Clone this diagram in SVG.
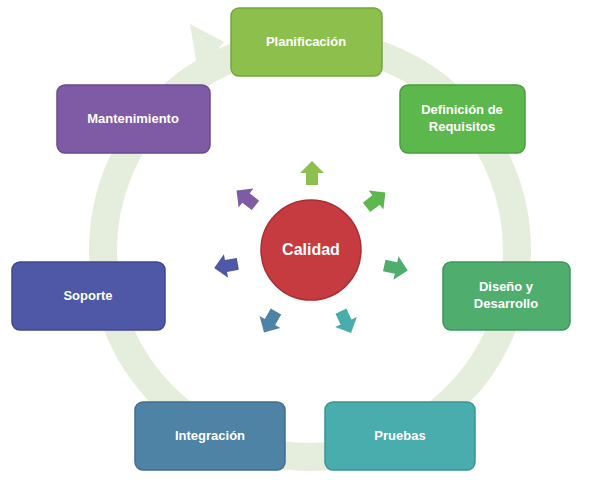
<svg xmlns="http://www.w3.org/2000/svg" width="610" height="480" viewBox="0 0 610 480">
<style>
.n{stroke-width:1.5}
.t{font-family:"Liberation Sans",Arial,sans-serif;font-size:13px;font-weight:bold;fill:#fff;text-anchor:middle}
</style>
<defs>
<polygon id="ar" points="-6,12 6,12 6,0 12,0 0,-12 -12,0 -6,0"/>
</defs>
<rect width="610" height="480" fill="#fff"/>
<g id="connectors">
<circle cx="310" cy="250" r="207" fill="none" stroke="#e5eddc" stroke-width="28"/>
<polygon points="190,24 224,42 198,72" fill="#e5eddc"/>
<g transform="translate(312,173)"><use href="#ar" fill="#8cbf4b"/></g>
<g transform="translate(376,200) rotate(52)"><use href="#ar" fill="#5cb84d"/></g>
<g transform="translate(396,268) rotate(102)"><use href="#ar" fill="#4fae6e"/></g>
<g transform="translate(346,322) rotate(155)"><use href="#ar" fill="#4aadad"/></g>
<g transform="translate(270,322) rotate(210)"><use href="#ar" fill="#4f83a6"/></g>
<g transform="translate(226,266) rotate(260)"><use href="#ar" fill="#4e58a6"/></g>
<g transform="translate(246,198) rotate(-52)"><use href="#ar" fill="#7f5aa5"/></g>
</g>
<g id="calidad"><circle cx="311" cy="250" r="50" fill="#c63b3f" stroke="#a83034" stroke-width="1.5"/><text class="t" x="311" y="255" style="font-size:16px">Calidad</text></g>
<g id="planificacion"><rect class="n" x="231" y="8" width="151" height="68" rx="8" fill="#8cbf4b" stroke="#76a53c"/><text class="t" x="306" y="46">Planificación</text></g>
<g id="definicion"><rect class="n" x="400" y="85" width="125" height="68" rx="8" fill="#5cb84d" stroke="#4a9e3d"/><text class="t" x="462" y="114">Definición de</text><text class="t" x="462" y="131">Requisitos</text></g>
<g id="diseno"><rect class="n" x="443" y="262" width="127" height="68" rx="8" fill="#4fae6e" stroke="#40955b"/><text class="t" x="506" y="291">Diseño y</text><text class="t" x="506" y="308">Desarrollo</text></g>
<g id="pruebas"><rect class="n" x="325" y="402" width="150" height="68" rx="8" fill="#4aadad" stroke="#3b9494"/><text class="t" x="400" y="440">Pruebas</text></g>
<g id="integracion"><rect class="n" x="135" y="402" width="150" height="68" rx="8" fill="#4f83a6" stroke="#406f8f"/><text class="t" x="210" y="440">Integración</text></g>
<g id="soporte"><rect class="n" x="12" y="262" width="153" height="68" rx="8" fill="#4e58a6" stroke="#3f488f"/><text class="t" x="88" y="300">Soporte</text></g>
<g id="mantenimiento"><rect class="n" x="57" y="85" width="153" height="68" rx="8" fill="#7f5aa5" stroke="#6b4a8e"/><text class="t" x="133" y="123">Mantenimiento</text></g>
</svg>
